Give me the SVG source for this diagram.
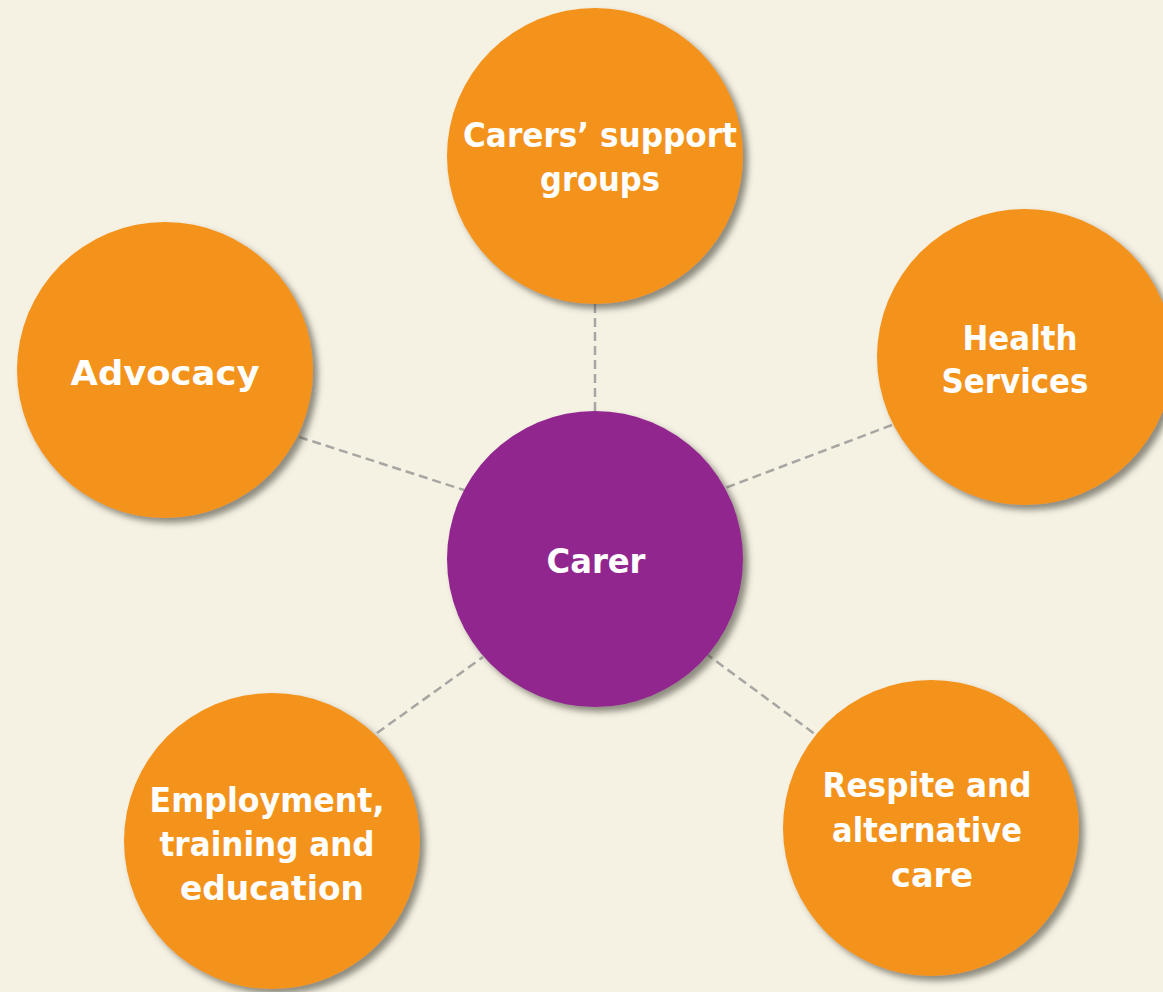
<svg xmlns="http://www.w3.org/2000/svg" width="1163" height="992" viewBox="0 0 1163 992">
<defs>
<filter id="sh" x="-20%" y="-20%" width="140%" height="140%">
<feDropShadow dx="5" dy="5" stdDeviation="3" flood-color="#4a4a3a" flood-opacity="0.6"/>
</filter>
</defs>
<style>
.c{fill:#F4931B;filter:url(#sh)}
.p{fill:#92278F;filter:url(#sh)}
.t{font-family:"DejaVu Sans",sans-serif;font-weight:bold;font-size:33px;fill:#ffffff;text-anchor:middle}
.l{stroke:#A8A6A2;stroke-width:2.5;stroke-dasharray:9 5;fill:none}
</style>
<rect width="1163" height="992" fill="#F5F1E3"/>
<g id="connectors">
<line class="l" x1="595" y1="304" x2="595" y2="412"/>
<line class="l" x1="299" y1="437" x2="464" y2="490"/>
<line class="l" x1="892" y1="425" x2="725" y2="488"/>
<line class="l" x1="377" y1="733" x2="483" y2="657"/>
<line class="l" x1="705" y1="653" x2="827" y2="743"/>
</g>
<g id="support"><circle class="c" cx="595" cy="156" r="148"/>
<text class="t" x="600" y="147" textLength="274" lengthAdjust="spacingAndGlyphs">Carers’ support</text><text class="t" x="600" y="191" textLength="120" lengthAdjust="spacingAndGlyphs">groups</text></g>
<g id="advocacy"><circle class="c" cx="165" cy="370" r="148"/>
<text class="t" x="165" y="385" textLength="189" lengthAdjust="spacingAndGlyphs">Advocacy</text></g>
<g id="health"><circle class="c" cx="1025" cy="357" r="148"/>
<text class="t" x="1020" y="350" textLength="115" lengthAdjust="spacingAndGlyphs">Health</text><text class="t" x="1015" y="393" textLength="147" lengthAdjust="spacingAndGlyphs">Services</text></g>
<g id="carer"><circle class="p" cx="595" cy="559" r="148"/>
<text class="t" x="596" y="573" textLength="99" lengthAdjust="spacingAndGlyphs">Carer</text></g>
<g id="employment"><circle class="c" cx="272" cy="841" r="148"/>
<text class="t" x="267" y="812" textLength="235" lengthAdjust="spacingAndGlyphs">Employment,</text><text class="t" x="267" y="856" textLength="215" lengthAdjust="spacingAndGlyphs">training and</text><text class="t" x="272" y="900" textLength="184" lengthAdjust="spacingAndGlyphs">education</text></g>
<g id="respite"><circle class="c" cx="931" cy="828" r="148"/>
<text class="t" x="927" y="797" textLength="209" lengthAdjust="spacingAndGlyphs">Respite and</text><text class="t" x="927" y="842" textLength="190" lengthAdjust="spacingAndGlyphs">alternative</text><text class="t" x="932" y="887" textLength="82" lengthAdjust="spacingAndGlyphs">care</text></g>
</svg>
